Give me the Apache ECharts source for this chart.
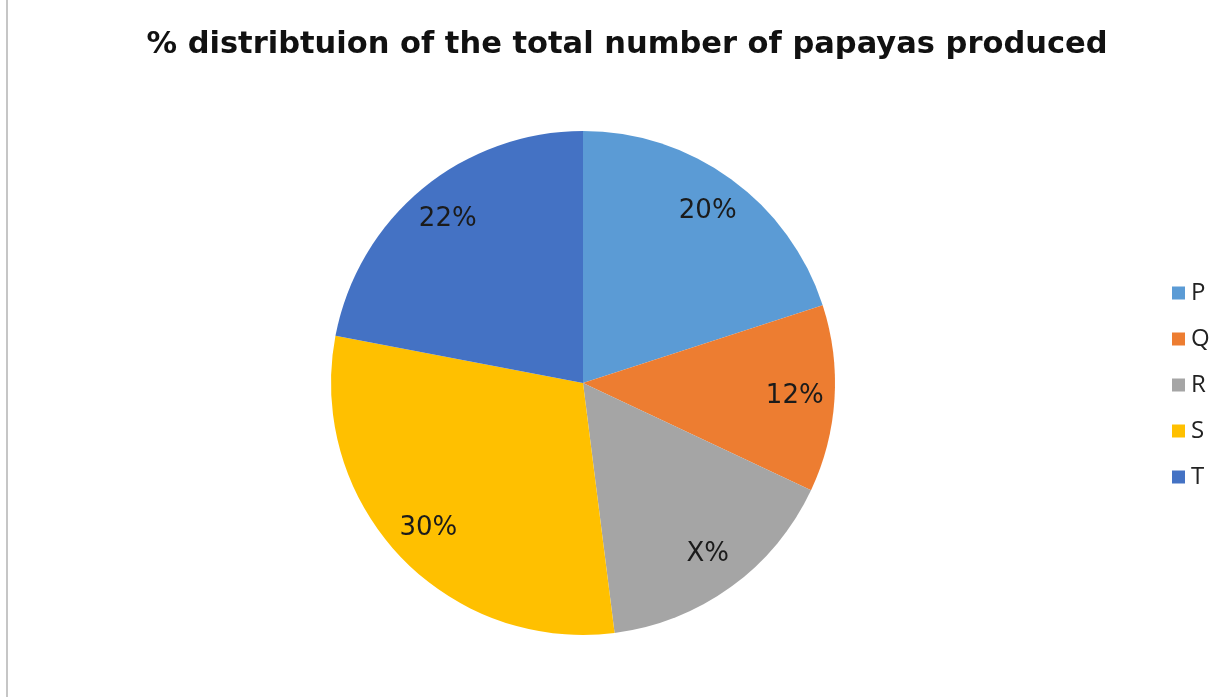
<!DOCTYPE html>
<html>
<head>
<meta charset="utf-8">
<script src="https://cdn.jsdelivr.net/npm/echarts@6/dist/echarts.min.js"></script>
<style>
  html, body { margin: 0; padding: 0; background: #fff; }
  #chart { width: 1228px; height: 697px; }
</style>
</head>
<body>
<div id="chart"></div>
<script>
// Share of papayas produced by each farm (R is the unknown X, the remainder to 100%)
const categories = ['P', 'Q', 'R', 'S', 'T'];
const shares = [20, 12, 16, 30, 22];
const labelTexts = ['20%', '12%', 'X%', '30%', '22%'];
const colors = ['#5B9BD5', '#ED7D31', '#A5A5A5', '#FFC000', '#4472C4'];

const chart = echarts.init(document.getElementById('chart'), null, { renderer: 'canvas' });

const pieData = categories.map((name, i) => ({
  name,
  value: shares[i],
  itemStyle: { color: colors[i] }
}));

// Label ring: same values, transparent slices, so the labels sit ~0.83 of the radius out
const labelData = categories.map((name, i) => ({
  name,
  value: shares[i],
  label: { formatter: labelTexts[i] }
}));

const center = [583, 383];
const R = 252;

chart.setOption({
  animation: false,
  color: colors,
  title: {
    text: '% distribtuion of the total number of papayas produced',
    left: 622,
    top: 25,
    textAlign: 'center',
    textStyle: {
      fontFamily: 'DejaVu Sans',
      fontWeight: 'bold',
      fontSize: 30.5,
      color: '#111'
    }
  },
  legend: {
    orient: 'vertical',
    left: 1167,
    top: 276,
    itemWidth: 13,
    itemHeight: 13,
    itemGap: 22,
    icon: 'rect',
    data: categories,
    textStyle: { fontFamily: 'Open Sans', fontSize: 24, color: '#222', padding: [0, 0, 0, 1] }
  },
  graphic: [{
    type: 'rect',
    shape: { x: 6, y: 0, width: 2, height: 697 },
    style: { fill: '#c6c6c6' },
    silent: true
  }],
  series: [
    {
      type: 'pie',
      center,
      radius: [0, R],
      startAngle: 90,
      clockwise: true,
      data: pieData,
      label: { show: false },
      labelLine: { show: false },
      emphasis: { disabled: true },
      itemStyle: { borderWidth: 0 }
    },
    {
      type: 'pie',
      center,
      radius: [0, 2 * R * 0.83],
      startAngle: 90,
      clockwise: true,
      silent: true,
      legendHoverLink: false,
      data: labelData,
      itemStyle: { color: 'rgba(0,0,0,0)', borderWidth: 0 },
      label: {
        show: true,
        position: 'inside',
        fontFamily: 'DejaVu Sans',
        fontSize: 26,
        color: '#1b1b1b'
      },
      labelLine: { show: false },
      emphasis: { disabled: true },
      z: 3
    }
  ]
});
</script>
</body>
</html>
